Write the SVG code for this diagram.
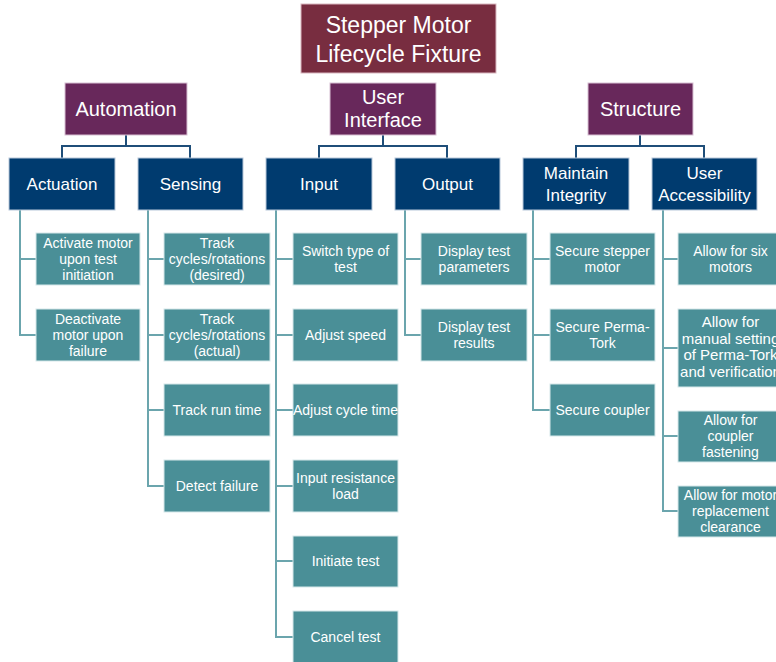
<svg xmlns="http://www.w3.org/2000/svg" width="776" height="662" viewBox="0 0 776 662">
<style>
text{font-family:"Liberation Sans",Arial,sans-serif;fill:#fff;text-anchor:middle;dominant-baseline:central}
.t0 rect{fill:#782D40;stroke:#d9b8c0;stroke-width:1}
.t0 text{font-size:23px}
.t1 rect{fill:#68285B;stroke:#d8c0d3;stroke-width:1}
.t1 text{font-size:20px}
.t2 rect{fill:#003B6F;stroke:#b8c8da;stroke-width:1}
.t2 text{font-size:17px}
.lf rect{fill:#4A8F97;stroke:#d6e8ea;stroke-width:1}
.lf text{font-size:14px}
.c1{fill:none;stroke:#1F4E79;stroke-width:2}
.c2{fill:none;stroke:#6BA5AD;stroke-width:2}
</style>
<rect width="776" height="662" fill="#fff"/>
<g id="connectors">
<path class="c1" d="M126 135V146M62 158V146H190V158"/>
<path class="c1" d="M383 135V146M319 158V146H447V158"/>
<path class="c1" d="M640 135V146M576 158V146H704V158"/>
<path class="c2" d="M20 210V335H36M20 259H36"/>
<path class="c2" d="M148 210V486H164M148 259H164M148 335H164M148 410H164"/>
<path class="c2" d="M276 210V637H293M276 259H293M276 335H293M276 410H293M276 486H293M276 561H293"/>
<path class="c2" d="M405 210V335H421M405 259H421"/>
<path class="c2" d="M533 210V410H550M533 259H550M533 335H550"/>
<path class="c2" d="M663 210V511H678M663 259H678M663 348H678M663 436H678"/>
</g>
<g id="title" class="t0"><rect x="301" y="4" width="195" height="69"/><text x="398.5" y="25">Stepper Motor</text><text x="398.5" y="54">Lifecycle Fixture</text></g>
<g id="automation" class="t1"><rect x="65" y="83" width="122" height="52"/><text x="126" y="109">Automation</text></g>
<g id="user-interface" class="t1"><rect x="330" y="83" width="106" height="52"/><text x="383" y="97">User</text><text x="383" y="120">Interface</text></g>
<g id="structure" class="t1"><rect x="588" y="83" width="105" height="52"/><text x="640.5" y="109">Structure</text></g>
<g id="actuation" class="t2"><rect x="9" y="158" width="106" height="52"/><text x="62" y="184">Actuation</text></g>
<g id="sensing" class="t2"><rect x="138" y="158" width="105" height="52"/><text x="190.5" y="184">Sensing</text></g>
<g id="input" class="t2"><rect x="266" y="158" width="106" height="52"/><text x="319" y="184">Input</text></g>
<g id="output" class="t2"><rect x="395" y="158" width="105" height="52"/><text x="447.5" y="184">Output</text></g>
<g id="maintain-integrity" class="t2"><rect x="523" y="158" width="106" height="52"/><text x="576" y="173">Maintain</text><text x="576" y="195">Integrity</text></g>
<g id="user-accessibility" class="t2"><rect x="652" y="158" width="105" height="52"/><text x="704.5" y="173">User</text><text x="704.5" y="195">Accessibility</text></g>
<g id="activate-motor" class="lf"><rect x="36" y="233" width="104" height="52"/><text x="88" y="243">Activate motor</text><text x="88" y="259">upon test</text><text x="88" y="275">initiation</text></g>
<g id="deactivate-motor" class="lf"><rect x="36" y="309" width="104" height="52"/><text x="88" y="319">Deactivate</text><text x="88" y="335">motor upon</text><text x="88" y="351">failure</text></g>
<g id="track-desired" class="lf"><rect x="164" y="233" width="106" height="52"/><text x="217" y="243">Track</text><text x="217" y="259">cycles/rotations</text><text x="217" y="275">(desired)</text></g>
<g id="track-actual" class="lf"><rect x="164" y="309" width="106" height="52"/><text x="217" y="319">Track</text><text x="217" y="335">cycles/rotations</text><text x="217" y="351">(actual)</text></g>
<g id="track-run-time" class="lf"><rect x="164" y="384" width="106" height="52"/><text x="217" y="410">Track run time</text></g>
<g id="detect-failure" class="lf"><rect x="164" y="460" width="106" height="52"/><text x="217" y="486">Detect failure</text></g>
<g id="switch-type" class="lf"><rect x="293" y="233" width="105" height="52"/><text x="345.5" y="251">Switch type of</text><text x="345.5" y="267">test</text></g>
<g id="adjust-speed" class="lf"><rect x="293" y="309" width="105" height="52"/><text x="345.5" y="335">Adjust speed</text></g>
<g id="adjust-cycle-time" class="lf"><rect x="293" y="384" width="105" height="52"/><text x="345.5" y="410">Adjust cycle time</text></g>
<g id="input-resistance" class="lf"><rect x="293" y="460" width="105" height="52"/><text x="345.5" y="478">Input resistance</text><text x="345.5" y="494">load</text></g>
<g id="initiate-test" class="lf"><rect x="293" y="536" width="105" height="51"/><text x="345.5" y="561">Initiate test</text></g>
<g id="cancel-test" class="lf"><rect x="293" y="611" width="105" height="52"/><text x="345.5" y="637">Cancel test</text></g>
<g id="display-parameters" class="lf"><rect x="421" y="233" width="106" height="52"/><text x="474" y="251">Display test</text><text x="474" y="267">parameters</text></g>
<g id="display-results" class="lf"><rect x="421" y="309" width="106" height="52"/><text x="474" y="327">Display test</text><text x="474" y="343">results</text></g>
<g id="secure-stepper" class="lf"><rect x="550" y="233" width="105" height="52"/><text x="602.5" y="251">Secure stepper</text><text x="602.5" y="267">motor</text></g>
<g id="secure-permatork" class="lf"><rect x="550" y="309" width="105" height="52"/><text x="602.5" y="327">Secure Perma-</text><text x="602.5" y="343">Tork</text></g>
<g id="secure-coupler" class="lf"><rect x="550" y="384" width="105" height="52"/><text x="602.5" y="410">Secure coupler</text></g>
<g id="six-motors" class="lf"><rect x="678" y="233" width="105" height="52"/><text x="730.5" y="251">Allow for six</text><text x="730.5" y="267">motors</text></g>
<g id="manual-setting" class="lf"><rect x="678" y="309" width="105" height="78"/><text x="730.5" y="321" style="font-size:15px">Allow for</text><text x="730.5" y="338" style="font-size:15px">manual setting</text><text x="730.5" y="354" style="font-size:15px">of Perma-Tork</text><text x="730.5" y="371" style="font-size:15px">and verification</text></g>
<g id="coupler-fastening" class="lf"><rect x="678" y="411" width="105" height="51"/><text x="730.5" y="420">Allow for</text><text x="730.5" y="436">coupler</text><text x="730.5" y="452">fastening</text></g>
<g id="motor-replacement" class="lf"><rect x="678" y="486" width="105" height="51"/><text x="730.5" y="495">Allow for motor</text><text x="730.5" y="511">replacement</text><text x="730.5" y="527">clearance</text></g>
</svg>
